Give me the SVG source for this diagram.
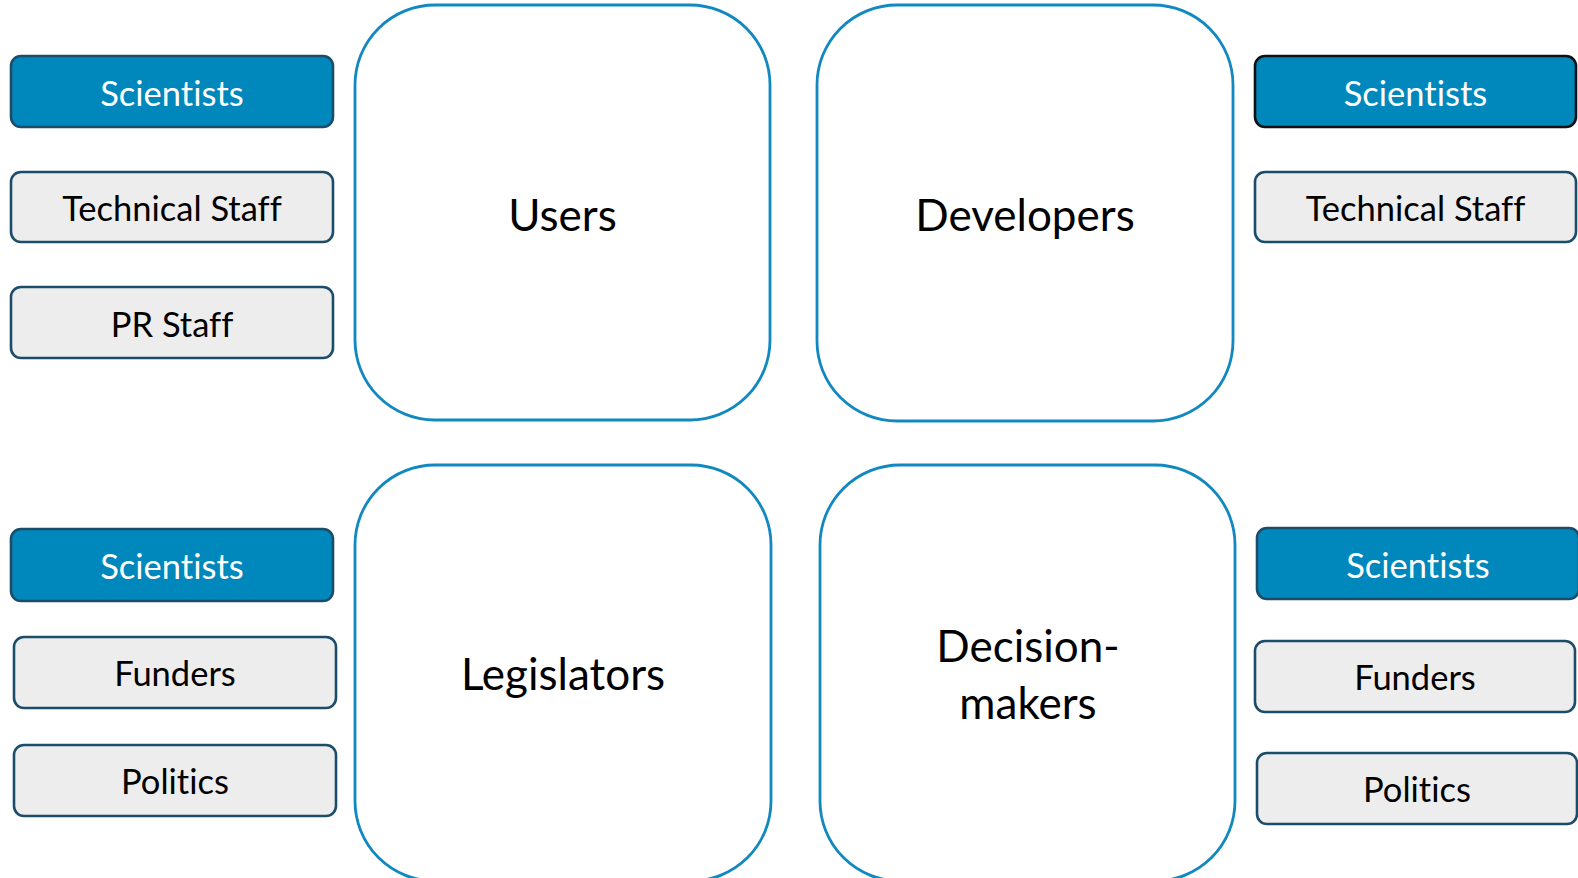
<svg xmlns="http://www.w3.org/2000/svg" width="1578" height="878" viewBox="0 0 1578 878">
<style>
.big{fill:#ffffff;stroke:#1188C0;stroke-width:2.8}
.sci{fill:#0088BD;stroke:#1B4D6B;stroke-width:2.6}
.sci2{fill:#0088BD;stroke:#111111;stroke-width:2.6}
.gry{fill:#EDEDED;stroke:#1B4D6B;stroke-width:2.6}
text{font-family:"Lato","Open Sans","Liberation Sans",sans-serif;text-anchor:middle;font-variant-ligatures:none;font-feature-settings:"liga" 0,"clig" 0}
.bt{font-size:44px;fill:#000}
.st{font-size:34.5px;fill:#000}
.wt{font-size:34.5px;fill:#fff}
</style>
<rect width="1578" height="878" fill="#ffffff"/>
<g id="connectors"></g>
<g id="users"><rect class="big" x="355" y="5" width="415" height="415" rx="80"/><text class="bt" x="562.5" y="231">Users</text></g>
<g id="developers"><rect class="big" x="817" y="5" width="416" height="416" rx="80"/><text class="bt" x="1025" y="231">Developers</text></g>
<g id="legislators"><rect class="big" x="355" y="465" width="416" height="416" rx="80"/><text class="bt" x="563" y="690">Legislators</text></g>
<g id="decision-makers"><rect class="big" x="820" y="465" width="415" height="416" rx="80"/><text class="bt" x="1028" y="662">Decision-</text><text class="bt" x="1028" y="719">makers</text></g>

<g id="tl-scientists"><rect class="sci" x="11" y="56" width="322" height="71" rx="10"/><text class="wt" x="172" y="106">Scientists</text></g>
<g id="tl-technical"><rect class="gry" x="11" y="172" width="322" height="70" rx="10"/><text class="st" x="172" y="221">Technical Staff</text></g>
<g id="tl-pr"><rect class="gry" x="11" y="287" width="322" height="71" rx="10"/><text class="st" x="172" y="337">PR Staff</text></g>

<g id="tr-scientists"><rect class="sci2" x="1255" y="56" width="321" height="71" rx="10"/><text class="wt" x="1415.5" y="106">Scientists</text></g>
<g id="tr-technical"><rect class="gry" x="1255" y="172" width="321" height="70" rx="10"/><text class="st" x="1415.5" y="221">Technical Staff</text></g>

<g id="bl-scientists"><rect class="sci" x="11" y="529" width="322" height="72" rx="10"/><text class="wt" x="172" y="579">Scientists</text></g>
<g id="bl-funders"><rect class="gry" x="14" y="637" width="322" height="71" rx="10"/><text class="st" x="175" y="686">Funders</text></g>
<g id="bl-politics"><rect class="gry" x="14" y="745" width="322" height="71" rx="10"/><text class="st" x="175" y="794">Politics</text></g>

<g id="br-scientists"><rect class="sci" x="1257" y="528" width="322" height="71" rx="10"/><text class="wt" x="1418" y="578">Scientists</text></g>
<g id="br-funders"><rect class="gry" x="1255" y="641" width="320" height="71" rx="10"/><text class="st" x="1415" y="690">Funders</text></g>
<g id="br-politics"><rect class="gry" x="1257" y="753" width="320" height="71" rx="10"/><text class="st" x="1417" y="802">Politics</text></g>
</svg>
